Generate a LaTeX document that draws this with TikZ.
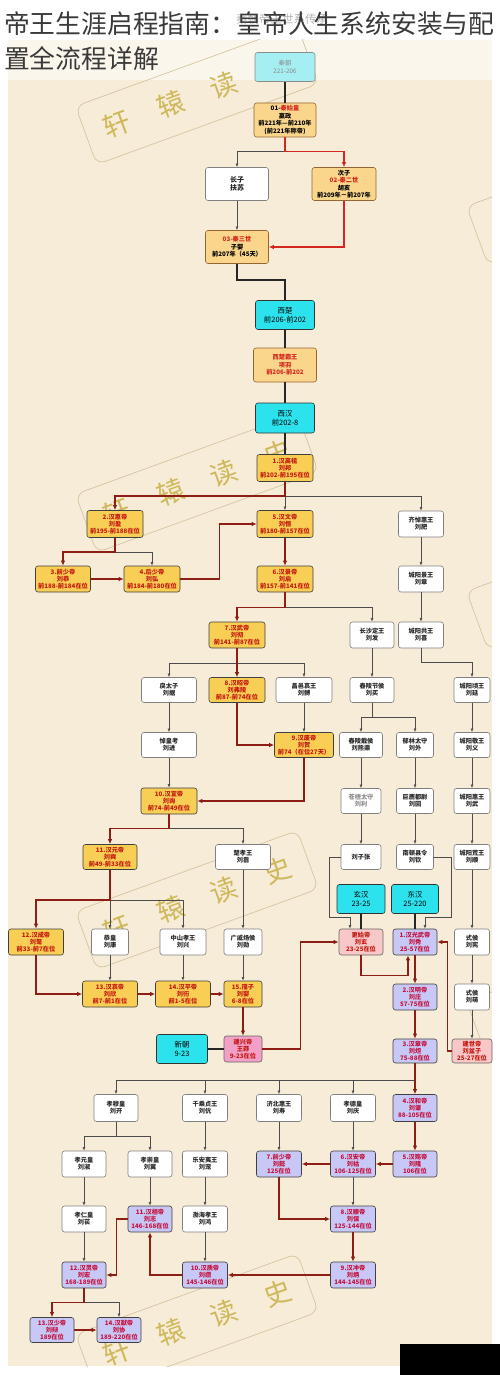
\documentclass[tikz,border=0pt]{standalone}
\usepackage{fontspec}
\setmainfont{Noto Sans CJK SC}
\usetikzlibrary{arrows.meta,calc}
\definecolor{paper}{RGB}{246,236,216}
\definecolor{paperlight}{RGB}{251,246,236}
\definecolor{eracyan}{RGB}{44,226,236}
\definecolor{qincyan}{RGB}{165,238,242}
\definecolor{qintan}{RGB}{250,214,140}
\definecolor{qinline}{RGB}{150,100,50}
\definecolor{qinred}{RGB}{210,40,30}
\definecolor{xhgold}{RGB}{248,206,84}
\definecolor{dhlav}{RGB}{200,200,246}
\definecolor{rivalpink}{RGB}{248,200,200}
\definecolor{mangpink}{RGB}{242,160,200}
\definecolor{hanred}{RGB}{196,24,16}
\definecolor{dhred}{RGB}{196,16,60}
\definecolor{heirred}{RGB}{140,30,22}
\definecolor{stampgold}{RGB}{200,176,70}
\definecolor{stampline}{RGB}{214,196,160}
\definecolor{titlegrey}{RGB}{58,58,58}
\newcommand{\redtxt}[1]{\textcolor{qinred}{#1}}

\begin{document}
\begin{tikzpicture}
  [x=1pt,y=-1pt,
   box/.style={rounded corners=2.5pt,line width=0.6pt,align=center,inner sep=1pt,
     font=\fontsize{6.2}{7}\selectfont\bfseries,minimum height=26pt},
   period/.style={box,fill=eracyan,draw=black!80,minimum width=#1,minimum height=29pt,
     font=\fontsize{7.4}{9}\selectfont},
   qin/.style={box,fill=qintan,draw=qinline,minimum width=#1,minimum height=33pt,
     font=\fontsize{6.2}{7.4}\selectfont\bfseries},
   xhan/.style={box,fill=xhgold,draw=black!75,text=hanred,minimum width=#1},
   dhan/.style={box,fill=dhlav,draw=black!75,text=dhred,minimum width=#1},
   rival/.style={box,fill=rivalpink,draw=black!60,text=hanred,minimum width=#1},
   other/.style={box,fill=white,draw=black!50,text=black!85,minimum width=#1},
   kin/.style={draw=black!70,line width=0.6pt,-{Latex[length=3.6pt,width=2.8pt]}},
   heir/.style={draw=heirred,line width=1.4pt,-{Latex[length=5pt,width=4.4pt]}},
   qinheir/.style={heir,draw=qinred},
   era/.style={draw=black!85,line width=1.5pt},
   frame/.style={draw=stampline,line width=0.7pt,rounded corners=9pt,rotate=20,
     minimum width=236pt,minimum height=62pt},
   stamp/.style={frame,text=stampgold,text opacity=.85,font=\fontsize{27}{27}\selectfont}]
  \useasboundingbox (0,0) rectangle (500,1375);
  \fill[white] (0,0) rectangle (500,1375);
  \fill[paperlight] (8,40) rectangle (492,80);
  \fill[paper] (8,80) rectangle (492,1366);
  \begin{scope}
    \clip (8,40) rectangle (492,1366);
    \foreach \y in {95,483,900,1323}
      \node[stamp] at (197,\y) {轩\hspace{30pt}辕\hspace{30pt}读\hspace{30pt}史};
    \foreach \y in {195,580,990}
      \node[frame] at (588,\y) {};
  \end{scope}
  \node[text=black!30,font=\fontsize{11.5}{12}\selectfont] (qinwm) at (282,19) {秦朝帝王世系传承};
  \node[anchor=base west,inner sep=0pt,text=titlegrey,font=\fontsize{25.8}{26}\selectfont] (title1) at (4,34) {帝王生涯启程指南：皇帝人生系统安装与配};
  \node[anchor=base west,inner sep=0pt,text=titlegrey,font=\fontsize{25.8}{26}\selectfont] (title2) at (4,69) {置全流程详解};
  \fill[black] (400,1344) rectangle (500,1375);

  \node[period=60pt,fill=qincyan,draw=black!45,text=black!45,font=\fontsize{6.3}{8}\selectfont] (qin) at (285,67) {秦朝\\221-206};
  \node[qin=62pt,minimum height=34pt] (q1) at (285,120) {01-\redtxt{秦始皇}\\嬴政\\前221年—前210年\\(前221年称帝)};
  \node[other=63pt,minimum height=33pt,font=\fontsize{7}{8.4}\selectfont\bfseries] (fusu) at (237,184) {长子\\扶苏};
  \node[qin=64pt] (q2) at (344,184) {次子\\\redtxt{02-秦二世}\\胡亥\\前209年－前207年};
  \node[qin=63pt] (q3) at (237,247) {\redtxt{03-秦三世}\\子婴\\前207年（45天）};
  \node[period=59pt] (xichu) at (285,315) {西楚\\前206-前202};
  \node[qin=63pt,minimum height=34pt,text=qinred] (xiang) at (285,365) {西楚霸王\\项羽\\前206-前202};
  \node[period=59pt,minimum height=30pt] (xihan) at (285,418) {西汉\\前202-8};

  \node[xhan=56pt,minimum height=27pt] (w1) at (285,468) {1.汉高祖\\刘邦\\前202-前195在位};
  \node[xhan=56pt,minimum height=27pt] (w2) at (115,524) {2.汉惠帝\\刘盈\\前195-前188在位};
  \node[xhan=56pt,minimum height=27pt] (w5) at (285,524) {5.汉文帝\\刘恒\\前180-前157在位};
  \node[other=45pt] (qidh) at (421,524) {齐悼惠王\\刘肥};
  \node[xhan=55pt] (w3) at (63,579) {3.前少帝\\刘恭\\前188-前184在位};
  \node[xhan=56pt] (w4) at (152,579) {4.后少帝\\刘弘\\前184-前180在位};
  \node[xhan=56pt] (w6) at (285,579) {6.汉景帝\\刘启\\前157-前141在位};
  \node[other=45pt] (cyjw) at (421,579) {城阳景王\\刘章};
  \node[xhan=56pt] (w7) at (237,635) {7.汉武帝\\刘彻\\前141-前87在位};
  \node[other=44pt] (csdw) at (372,635) {长沙定王\\刘发};
  \node[other=45pt] (cygw) at (421,635) {城阳共王\\刘喜};
  \node[other=55pt,minimum height=25pt] (ltz) at (169,690) {戾太子\\刘据};
  \node[xhan=56pt,minimum height=25pt] (w8) at (237,690) {8.汉昭帝\\刘弗陵\\前87-前74在位};
  \node[other=56pt,minimum height=25pt] (cyaw) at (304,690) {昌邑哀王\\刘髆};
  \node[other=44pt,minimum height=25pt] (cljh) at (372,690) {舂陵节侯\\刘买};
  \node[other=36pt,minimum height=25pt] (cyqw) at (472,690) {城阳顷王\\刘延};
  \node[other=55pt,minimum height=25pt] (dhk) at (169,745) {悼皇考\\刘进};
  \node[xhan=59pt,minimum height=25pt] (w9) at (304,745) {9.汉废帝\\刘贺\\前74（在位27天）};
  \node[other=43pt,minimum height=25pt] (cldh) at (361,745) {舂陵戴侯\\刘熊渠};
  \node[other=37pt,minimum height=25pt] (ylts) at (415,745) {郁林太守\\刘外};
  \node[other=36pt,minimum height=25pt] (cyjwang) at (472,745) {城阳敬王\\刘义};
  \node[xhan=56pt] (w10) at (169,801) {10.汉宣帝\\刘询\\前74-前49在位};
  \node[other=40pt,minimum height=25pt,text=black!45] (cwts) at (361,801) {苍梧太守\\刘利};
  \node[other=37pt,minimum height=25pt] (jldw) at (415,801) {巨鹿都尉\\刘回};
  \node[other=36pt,minimum height=25pt] (cyhw) at (472,801) {城阳惠王\\刘武};
  \node[xhan=54pt,minimum height=25pt] (w11) at (110,857) {11.汉元帝\\刘奭\\前49-前33在位};
  \node[other=55pt,minimum height=25pt] (cxw) at (243,857) {楚孝王\\刘嚣};
  \node[other=40pt,minimum height=25pt] (lzz) at (361,857) {刘子张};
  \node[other=37pt,minimum height=25pt] (ndxl) at (415,857) {南顿县令\\刘钦};
  \node[other=36pt,minimum height=25pt] (cyhgw) at (472,857) {城阳荒王\\刘顺};
  \node[period=48pt] (xuanhan) at (361,899) {玄汉\\23-25};
  \node[period=47pt] (donghan) at (415,899) {东汉\\25-220};
  \node[xhan=55pt] (w12) at (36,942) {12.汉成帝\\刘骜\\前33-前7在位};
  \node[other=37pt] (gh) at (110,942) {恭皇\\刘康};
  \node[other=46pt] (zsxw) at (183,942) {中山孝王\\刘兴};
  \node[other=38pt] (gqyh) at (243,942) {广戚炀侯\\刘勋};
  \node[rival=44pt] (gsd) at (361,942) {更始帝\\刘玄\\23-25在位};
  \node[dhan=44pt] (e1) at (415,942) {1.汉光武帝\\刘秀\\25-57在位};
  \node[other=35pt] (shx) at (472,942) {式侯\\刘宪};
  \node[xhan=55pt] (w13) at (110,994) {13.汉哀帝\\刘欣\\前7-前1在位};
  \node[xhan=55pt] (w14) at (183,994) {14.汉平帝\\刘衎\\前1-5在位};
  \node[xhan=38pt] (w15) at (243,994) {15.孺子\\刘婴\\6-8在位};
  \node[dhan=44pt] (e2) at (415,997) {2.汉明帝\\刘庄\\57-75在位};
  \node[other=35pt] (shm) at (472,997) {式侯\\刘萌};
  \node[period=51pt] (xinchao) at (182,1049) {新朝\\9-23};
  \node[rival=38pt,fill=mangpink] (wm) at (243,1049) {建兴帝\\王莽\\9-23在位};
  \node[dhan=44pt,minimum height=24pt] (e3) at (415,1051) {3.汉章帝\\刘炟\\75-88在位};
  \node[rival=40pt,minimum height=24pt] (jsd) at (472,1051) {建世帝\\刘盆子\\25-27在位};

  \node[other=44pt,minimum height=27pt] (xmh) at (116,1108) {孝穆皇\\刘开};
  \node[other=45pt,minimum height=27pt] (cqzw) at (205,1108) {千乘贞王\\刘伉};
  \node[other=45pt,minimum height=27pt] (jbhw) at (279,1108) {济北惠王\\刘寿};
  \node[other=45pt,minimum height=27pt] (xdh) at (353,1108) {孝德皇\\刘庆};
  \node[dhan=44pt,minimum height=27pt] (e4) at (415,1108) {4.汉和帝\\刘肇\\88-105在位};
  \node[other=44pt] (xyh) at (84,1164) {孝元皇\\刘淑};
  \node[other=44pt] (xch) at (150,1164) {孝崇皇\\刘翼};
  \node[other=45pt] (layw) at (205,1164) {乐安夷王\\刘宠};
  \node[dhan=45pt] (e7) at (279,1164) {7.前少帝\\刘懿\\125在位};
  \node[dhan=45pt] (e6) at (353,1164) {6.汉安帝\\刘祜\\106-125在位};
  \node[dhan=44pt] (e5) at (415,1164) {5.汉殇帝\\刘隆\\106在位};
  \node[other=44pt] (xrh) at (84,1219) {孝仁皇\\刘苌};
  \node[dhan=44pt] (e11) at (150,1219) {11.汉桓帝\\刘志\\146-168在位};
  \node[other=45pt] (bhxw) at (205,1219) {渤海孝王\\刘鸿};
  \node[dhan=45pt] (e8) at (353,1219) {8.汉顺帝\\刘保\\125-144在位};
  \node[dhan=44pt] (e12) at (84,1275) {12.汉灵帝\\刘宏\\168-189在位};
  \node[dhan=45pt] (e10) at (205,1275) {10.汉质帝\\刘缵\\145-146在位};
  \node[dhan=45pt] (e9) at (353,1275) {9.汉冲帝\\刘炳\\144-145在位};
  \node[dhan=44pt,minimum height=25pt] (e13) at (52,1330) {13.汉少帝\\刘辩\\189在位};
  \node[dhan=44pt,minimum height=25pt] (e14) at (119,1330) {14.汉献帝\\刘协\\189-220在位};

  \draw[era] (qin) -- (q1);
  \draw[kin] (q1.south) -- ++(0,14) -| (fusu.north);
  \draw[qinheir] (q1.south) -- ++(0,14) -| (q2.north);
  \draw[qinheir] (q2.south) |- (q3.east);
  \draw[era] (q3.south) -- ++(0,16) -| (xichu.north);
  \foreach \from/\to in {xichu/xiang,xiang/xihan,xihan/w1,xinchao/wm,xuanhan/gsd,donghan/e1}
    \draw[era] (\from) -- (\to);

  \foreach \from/\to in {fusu/q3,w1/w5,qidh/cyjw,cyjw/cygw,csdw/cljh,ltz/dhk,cyaw/w9,dhk/w10,
      cyqw/cyjwang,cyjwang/cyhw,cyhw/cyhgw,cyhgw/shx,shx/shm,shm/jsd,cldh/cwts,cwts/lzz,
      ylts/jldw,jldw/ndxl,cxw/gqyh,w11/gh,gh/w13,zsxw/w14,gqyh/w15,cqzw/layw,jbhw/e7,
      xdh/e6,layw/bhxw,xyh/xrh,xch/e11,e6/e8,bhxw/e10,xrh/e12}
    \draw[kin] (\from) -- (\to);
  \draw[kin] (w1.south) -- ++(0,14) -| (qidh.north);
  \draw[kin] (w2.south) -- ++(0,14) -| (w4.north);
  \draw[kin] (w6.south) -- ++(0,15) -| (csdw.north);
  \draw[kin] (w7.south) -- ++(0,15) -| (ltz.north);
  \draw[kin] (w7.south) -- ++(0,15) -| (cyaw.north);
  \draw[kin] (cljh.south) -- ++(0,14) -| (cldh.north);
  \draw[kin] (cljh.south) -- ++(0,14) -| (ylts.north);
  \draw[kin] (cygw.south) -- ++(0,14) -| (cyqw.north);
  \draw[kin] (w10.south) -- ++(0,14) -| (cxw.north);
  \draw[kin] (w11.south) -- ++(0,30) -| (zsxw.north);
  \draw[kin] (lzz.west) -- ++(-11,0) -- ++(0,60) -| ($(gsd.north)+(-11,0)$);
  \draw[kin] (ndxl.east) -- ++(17,0) -- ++(0,60) -| ($(e1.north)+(10,0)$);
  \foreach \k in {xmh,cqzw,jbhw,xdh}
    \draw[kin] (e3.south) -- ++(0,17) -| (\k.north);
  \draw[kin] (xmh.south) -- ++(0,14) -| (xyh.north);
  \draw[kin] (xmh.south) -- ++(0,14) -| (xch.north);
  \draw[kin] (e12.south) -- ++(0,14) -| (e14.north);

  \foreach \from/\to in {w3/w4,w5/w6,w7/w8,w13/w14,w14/w15,w15/wm,e1/e2,e2/e3,e3/e4,
      e4/e5,e5/e6,e6/e7,e8/e9,e9/e10,e13/e14}
    \draw[heir] (\from) -- (\to);
  \draw[heir] (w1.south) -- ++(0,14) -| (w2.north);
  \draw[heir] (w2.south) -- ++(0,14) -| (w3.north);
  \draw[heir] (w4.east) -- ++(39,0) |- (w5.west);
  \draw[heir] (w6.south) -- ++(0,15) -| (w7.north);
  \draw[heir] (w8.south) |- (w9.west);
  \draw[heir] (w9.south) |- (w10.east);
  \draw[heir] (w10.south) -- ++(0,14) -| (w11.north);
  \draw[heir] (w11.south) -- ++(0,30) -| (w12.north);
  \draw[heir] (w12.south) |- (w13.west);
  \draw[heir] (wm.east) -- ++(38,0) |- (gsd.west);
  \draw[heir] (gsd.south) -- ++(0,20) -| ($(e1.south)+(-7,0)$);
  \draw[heir] (jsd.west) -- ++(-4,0) |- (e1.east);
  \draw[heir] (e7.south) |- (e8.west);
  \draw[heir] (e10.west) -| (e11.south);
  \draw[heir] (e11.west) -- ++(-11,0) |- (e12.east);
  \draw[heir] (e12.south) -- ++(0,14) -| (e13.north);
\end{tikzpicture}
\end{document}
